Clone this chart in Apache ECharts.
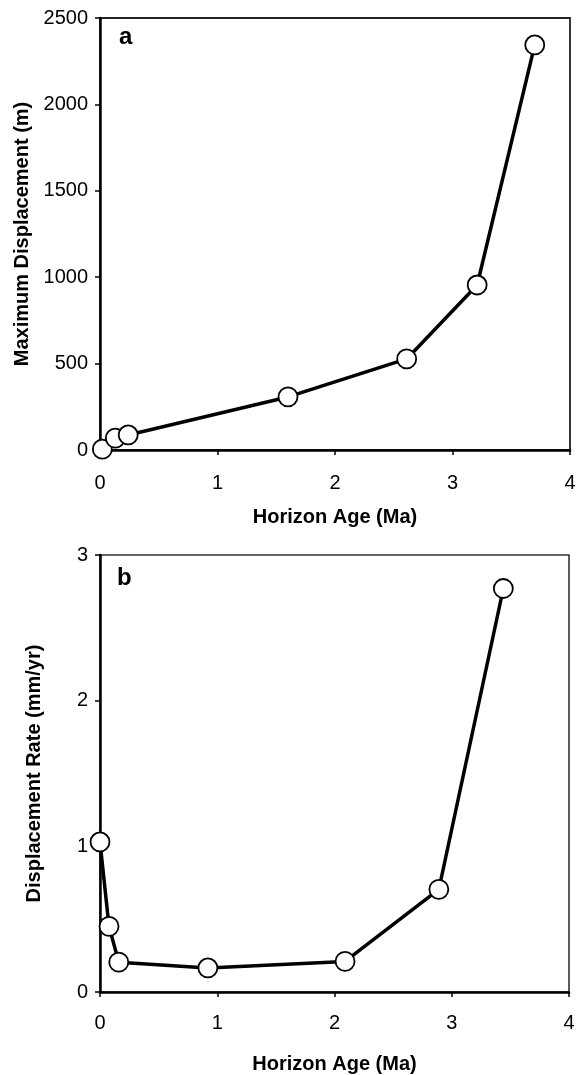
<!DOCTYPE html>
<html>
<head>
<meta charset="utf-8">
<script src="https://cdn.jsdelivr.net/npm/echarts@6/dist/echarts.min.js"></script>
<style>
html,body{margin:0;padding:0;background:#fff;}
#chart{width:587px;height:1075px;}
</style>
</head>
<body>
<div id="chart"></div>
<script>
// Panel a: Maximum displacement vs horizon age
var ageA = [0.02, 0.13, 0.24, 1.6, 2.61, 3.21, 3.7];
var dispA = [5, 69, 87, 307, 527, 955, 2344];
// Panel b: Displacement rate vs horizon age
var ageB = [0.0, 0.077, 0.16, 0.92, 2.09, 2.89, 3.44];
var rateB = [1.03, 0.45, 0.205, 0.165, 0.21, 0.705, 2.77];

var xTitle = 'Horizon Age (Ma)';
var yTitleA = 'Maximum Displacement (m)';
var yTitleB = 'Displacement Rate (mm/yr)';
var panelLabels = ['a', 'b'];

function pairs(xs, ys) { return xs.map(function (x, i) { return [x, ys[i]]; }); }

var FONT = 'Liberation Sans, Arial, sans-serif';
var axisLineStyle = { color: '#000', width: 2.5 };
function xAxis(gi, nameGap, labelMargin) {
  return {
    type: 'value', gridIndex: gi, min: 0, max: 4, interval: 1,
    name: xTitle, nameLocation: 'middle', nameGap: nameGap,
    nameTextStyle: { fontFamily: FONT, fontSize: 20, fontWeight: 'bold', color: '#000' },
    axisLine: { show: true, onZero: false, lineStyle: axisLineStyle },
    axisTick: { show: true, inside: false, length: 5, lineStyle: { color: '#000', width: 1.5 } },
    axisLabel: { fontFamily: FONT, fontSize: 20, color: '#000', margin: labelMargin, formatter: function (v) { return String(v); } },
    splitLine: { show: false }
  };
}
function yAxis(gi, min, max, interval, name, nameGap) {
  return {
    type: 'value', gridIndex: gi, min: min, max: max, interval: interval,
    name: name, nameLocation: 'middle', nameGap: nameGap, nameRotate: 90,
    nameTextStyle: { fontFamily: FONT, fontSize: 20, fontWeight: 'bold', color: '#000' },
    axisLine: { show: true, onZero: false, lineStyle: axisLineStyle },
    axisTick: { show: true, inside: false, length: 5, lineStyle: { color: '#000', width: 1.5 } },
    axisLabel: { fontFamily: FONT, fontSize: 20, color: '#000', margin: 12, formatter: function (v) { return String(v); } },
    splitLine: { show: false }
  };
}
function series(idx, data) {
  return {
    type: 'line', xAxisIndex: idx, yAxisIndex: idx, data: data,
    symbol: 'circle', symbolSize: 19, clip: false,
    lineStyle: { color: '#000', width: 3.5 },
    itemStyle: { color: '#fff', borderColor: '#000', borderWidth: 1.8 },
    emphasis: { disabled: true }, z: 3
  };
}

var chart = echarts.init(document.getElementById('chart'), null, { renderer: 'canvas' });
chart.setOption({
  animation: false,
  backgroundColor: '#fff',
  grid: [
    { left: 100, top: 18, right: 17, height: 432, outerBoundsMode: 'none', containLabel: false, show: true, borderColor: '#222', borderWidth: 1.8, backgroundColor: 'transparent' },
    { left: 100, top: 555, right: 18, height: 437, outerBoundsMode: 'none', containLabel: false, show: true, borderColor: '#333', borderWidth: 1.6, backgroundColor: 'transparent' }
  ],
  xAxis: [xAxis(0, 57, 23), xAxis(1, 62, 21)],
  yAxis: [
    yAxis(0, 0, 2500, 500, yTitleA, 68),
    yAxis(1, 0, 3, 1, yTitleB, 56)
  ],
  series: [series(0, pairs(ageA, dispA)), series(1, pairs(ageB, rateB))],
  graphic: [
    { type: 'text', left: 119, top: 25, style: { text: panelLabels[0], font: 'bold 24px ' + FONT, fill: '#000' } },
    { type: 'text', left: 117, top: 566, style: { text: panelLabels[1], font: 'bold 24px ' + FONT, fill: '#000' } }
  ]
});
</script>
</body>
</html>
